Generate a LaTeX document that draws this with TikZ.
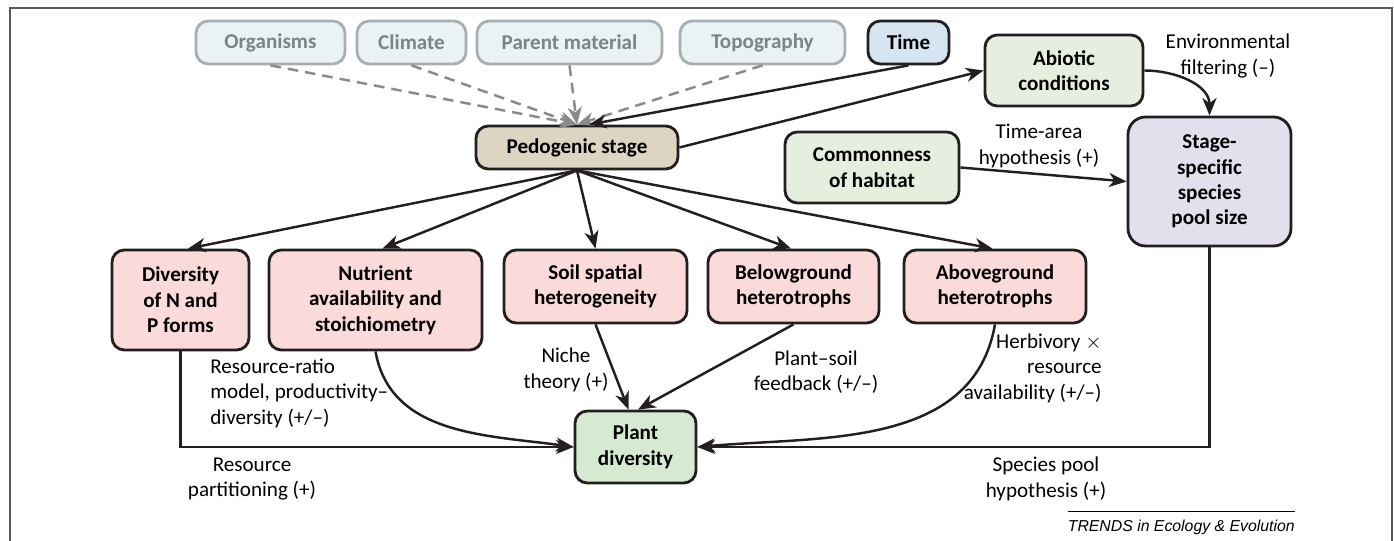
\documentclass[tikz,border=0pt]{standalone}
\usepackage{fontspec}
\setmainfont{Carlito}
\newfontfamily\trendsfont{Liberation Sans}
\usetikzlibrary{arrows.meta}

\definecolor{framegray}{HTML}{595959}
\definecolor{factorfill}{HTML}{EBF2F5}
\definecolor{factorline}{HTML}{A8AEB2}
\definecolor{factortext}{HTML}{7B8388}
\definecolor{timefill}{HTML}{D5E5F1}
\definecolor{stagefill}{HTML}{DDD5C2}
\definecolor{greenfill}{HTML}{E6EFDF}
\definecolor{plantfill}{HTML}{D6EAD2}
\definecolor{pinkfill}{HTML}{FADBDA}
\definecolor{poolfill}{HTML}{E4DFEC}
\definecolor{dashgray}{HTML}{8A8A8A}
\definecolor{inkline}{HTML}{231F20}

\begin{document}
\begin{tikzpicture}[x=0.2mm,y=-0.2mm,
  every node/.style={font=\fontsize{12}{14.5}\selectfont},
  box/.style={draw=inkline,line width=1.6pt,rounded corners=7pt,align=center,inner sep=2pt,
    font=\bfseries\fontsize{12}{14.5}\selectfont},
  factor/.style={box,draw=factorline,fill=factorfill,text=factortext,minimum height=0.86cm},
  greenbox/.style={box,fill=greenfill,minimum height=1.42cm},
  pinkbox/.style={box,fill=pinkfill},
  note/.style={align=center,inner sep=0pt},
  link/.style={draw=inkline,line width=1.4pt,-{Stealth[length=10pt,width=8pt,inset=3pt]}},
  soft/.style={link,draw=dashgray,dash pattern=on 6pt off 4pt,
    -{Stealth[length=10pt,width=8pt,inset=3pt,fill=dashgray]}}
]
\useasboundingbox (0,0) rectangle (1394,541);
\draw[framegray,line width=1.6pt] (10,541) -- (10,8) -- (1392,8) -- (1392,541);

% soil forming factors
\node[factor,minimum width=2.98cm] (org) at (270.5,42.5) {Organisms};
\node[factor,minimum width=2.18cm] (clim) at (411.5,42.5) {Climate};
\node[factor,minimum width=3.70cm] (parent) at (569.5,42.5) {Parent material};
\node[factor,minimum width=3.30cm] (topo) at (762.5,42.5) {Topography};
\node[box,fill=timefill,minimum width=1.62cm,minimum height=0.86cm] (time) at (908.5,42.5) {Time};

\node[box,fill=stagefill,minimum width=4.04cm,minimum height=0.86cm] (pedo) at (577,147.5) {Pedogenic stage};
\node[greenbox,minimum width=3.16cm] (abiotic) at (1064,70.5) {Abiotic\\conditions};
\node[greenbox,minimum width=3.48cm] (common) at (872,167.5) {Commonness\\of habitat};
\node[box,fill=poolfill,rounded corners=10pt,minimum width=3.26cm,minimum height=2.58cm] (pool) at (1209.5,181.5)
  {Stage-\\specific\\species\\pool size};

% soil properties
\node[pinkbox,minimum width=2.74cm,minimum height=2.0cm] (divN) at (180.5,300) {Diversity\\of N and\\P forms};
\node[pinkbox,minimum width=4.26cm,minimum height=2.0cm] (nutr) at (375.5,300) {Nutrient\\availability and\\stoichiometry};
\node[pinkbox,minimum width=3.66cm,minimum height=1.46cm] (soil) at (595.5,286.5) {Soil spatial\\heterogeneity};
\node[pinkbox,minimum width=3.42cm,minimum height=1.46cm] (below) at (793.5,286.5) {Belowground\\heterotrophs};
\node[pinkbox,minimum width=3.64cm,minimum height=1.46cm] (above) at (995,286.5) {Aboveground\\heterotrophs};

\node[box,fill=plantfill,minimum width=2.42cm,minimum height=1.44cm] (plant) at (635.5,447) {Plant\\diversity};

% labels
\node[note] (lblfilter) at (1228,56) {Environmental\\filtering (–)};
\node[note] (lbltimearea) at (1039,146) {Time-area\\hypothesis (+)};
\node[note,align=left,anchor=west] (lblratio) at (210,393) {Resource-ratio\\model, productivity–\\diversity (+/–)};
\node[note] (lblniche) at (566,370) {Niche\\theory (+)};
\node[note] (lblfeedback) at (816,372) {Plant–soil\\feedback (+/–)};
\node[note,align=right,anchor=east] (lblherb) at (1102,368) {Herbivory $\times$\\resource\\availability (+/–)};
\node[note] (lblpartition) at (252,479) {Resource\\partitioning (+)};
\node[note] (lblpool) at (1046,479) {Species pool\\hypothesis (+)};
\node[inner sep=0pt,anchor=east,font=\trendsfont\itshape\fontsize{9}{10}\selectfont] (trends) at (1295,527)
  {TRENDS in Ecology \& Evolution};
\draw[line width=0.6pt] ([yshift=1.6mm]trends.north west) -- ([yshift=1.6mm]trends.north east);

% connectors
\foreach \f in {org,clim,parent,topo}
  \draw[soft] (\f.south) -- (pedo.north);
\draw[link] (time.south) -- ([xshift=2.4mm]pedo.north);
\draw[link] (pedo.east) -- (abiotic.west);
\draw[link] (abiotic.east) to[out=0,in=90] (pool.north);
\draw[link] (common.east) -- (pool.west);

\draw[link] (pedo.south) -- ([xshift=1.5mm]divN.north);
\draw[link] (pedo.south) -- ([xshift=1.4mm]nutr.north);
\draw[link] (pedo.south) -- (soil.north);
\draw[link] (pedo.south) -- ([xshift=-0.5mm]below.north);
\draw[link] (pedo.south) -- ([xshift=-0.5mm]above.north);

\draw[link] (divN.south) |- (plant.west);
\draw[link] (nutr.south) to[out=-80,in=172] (plant.west);
\draw[link] (soil.south) -- ([xshift=-1.4mm]plant.north);
\draw[link] (below.south) -- ([xshift=0.5mm]plant.north);
\draw[link] (above.south) to[out=-100,in=5] (plant.east);
\draw[link] (pool.south) |- (plant.east);
\end{tikzpicture}
\end{document}
